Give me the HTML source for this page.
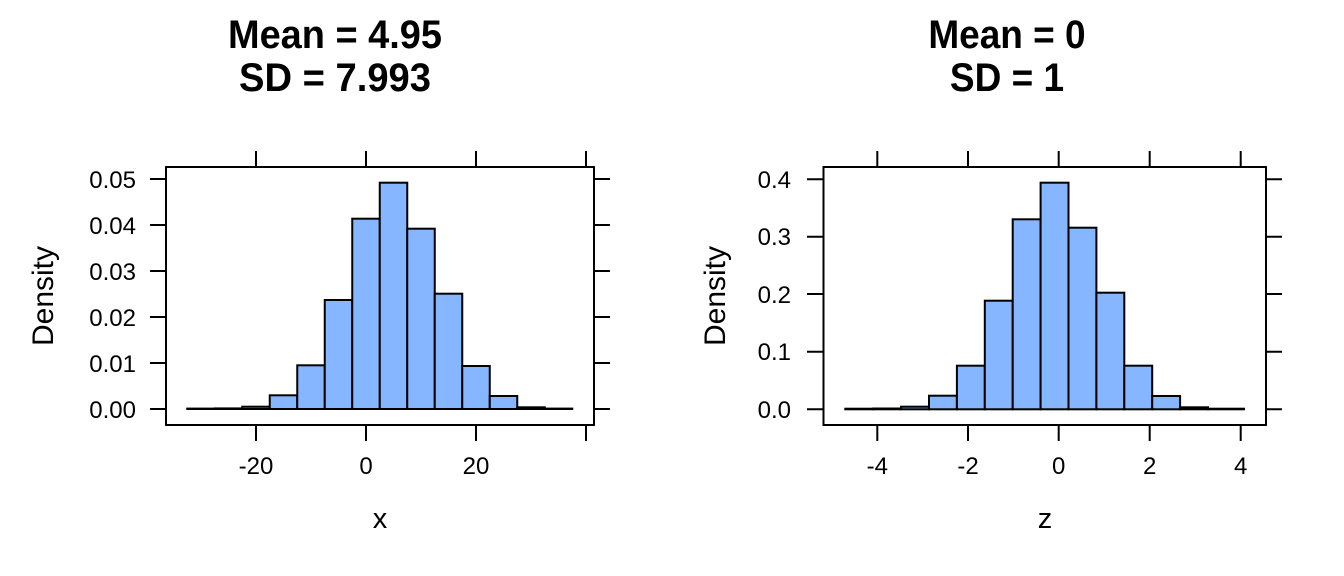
<!DOCTYPE html>
<html><head><style>html,body{margin:0;padding:0;background:#fff;}svg{display:block;}</style></head>
<body>
<svg width="1344" height="576" viewBox="0 0 1344 576" xmlns="http://www.w3.org/2000/svg" font-family="Liberation Sans, Arial, sans-serif">
<rect width="1344" height="576" fill="#fff"/>
<!-- Titles -->
<g font-weight="bold" font-size="37" text-anchor="middle" fill="#000">
<g transform="translate(0,48) scale(1,1.08)"><text x="335" y="0" textLength="214" lengthAdjust="spacingAndGlyphs">Mean = 4.95</text></g>
<g transform="translate(0,91) scale(1,1.08)"><text x="335" y="0" textLength="192" lengthAdjust="spacingAndGlyphs">SD = 7.993</text></g>
<g transform="translate(0,48) scale(1,1.08)"><text x="1007" y="0">Mean = 0</text></g>
<g transform="translate(0,91) scale(1,1.08)"><text x="1007" y="0">SD = 1</text></g>
</g>
<!-- LEFT PANEL -->
<g fill="#85B6FF" stroke="#000" stroke-width="2">
<rect x="187.25" y="408.6" width="27.5" height="0.4"/>
<rect x="214.75" y="408.4" width="27.5" height="0.6"/>
<rect x="242.25" y="406.7" width="27.5" height="2.3"/>
<rect x="269.75" y="395.3" width="27.5" height="13.7"/>
<rect x="297.25" y="365.3" width="27.5" height="43.7"/>
<rect x="324.75" y="300" width="27.5" height="109"/>
<rect x="352.25" y="218.7" width="27.5" height="190.3"/>
<rect x="379.75" y="182.7" width="27.5" height="226.3"/>
<rect x="407.25" y="228.7" width="27.5" height="180.3"/>
<rect x="434.75" y="293.7" width="27.5" height="115.3"/>
<rect x="462.25" y="366" width="27.5" height="43"/>
<rect x="489.75" y="396" width="27.5" height="13"/>
<rect x="517.25" y="407.3" width="27.5" height="1.7"/>
<rect x="544.75" y="408.6" width="27.5" height="0.4"/>
</g>
<g stroke="#000" stroke-width="2" fill="none">
<rect x="166" y="167" width="428" height="258"/>
<path d="M256 151V167M366 151V167M476 151V167M586 151V167M256 425V441M366 425V441M476 425V441M586 425V441"/>
<path d="M150 179H166M150 225H166M150 271H166M150 317H166M150 363H166M150 409H166M594 179H610M594 225H610M594 271H610M594 317H610M594 363H610M594 409H610"/>
</g>
<g font-size="24" fill="#000">
<g text-anchor="end">
<text x="136" y="188">0.05</text>
<text x="136" y="234">0.04</text>
<text x="136" y="280">0.03</text>
<text x="136" y="326">0.02</text>
<text x="136" y="372">0.01</text>
<text x="136" y="418">0.00</text>
</g>
<g text-anchor="middle">
<text x="256" y="474">-20</text>
<text x="366" y="474">0</text>
<text x="476" y="474">20</text>
</g>
</g>
<text x="380" y="528" font-size="29" text-anchor="middle">x</text>
<text transform="translate(53,296) rotate(-90)" font-size="30" text-anchor="middle">Density</text>
<!-- RIGHT PANEL -->
<g fill="#85B6FF" stroke="#000" stroke-width="2">
<rect x="845.3" y="408.7" width="27.9" height="0.6"/>
<rect x="873.2" y="408.5" width="27.9" height="0.8"/>
<rect x="901.1" y="406.7" width="27.9" height="2.6"/>
<rect x="929" y="395.7" width="27.9" height="13.6"/>
<rect x="956.9" y="365.7" width="27.9" height="43.6"/>
<rect x="984.8" y="300.7" width="27.9" height="108.6"/>
<rect x="1012.7" y="219.3" width="27.9" height="190"/>
<rect x="1040.6" y="182.7" width="27.9" height="226.6"/>
<rect x="1068.5" y="227.7" width="27.9" height="181.6"/>
<rect x="1096.4" y="292.7" width="27.9" height="116.6"/>
<rect x="1124.3" y="365.7" width="27.9" height="43.6"/>
<rect x="1152.2" y="396" width="27.9" height="13.3"/>
<rect x="1180.1" y="407.3" width="27.9" height="2"/>
<rect x="1208" y="408.7" width="36" height="0.6"/>
</g>
<g stroke="#000" stroke-width="2" fill="none">
<rect x="823.5" y="167" width="442.5" height="258"/>
<path d="M877.3 151V167M968 151V167M1058.7 151V167M1149.7 151V167M1240.7 151V167M877.3 425V441M968 425V441M1058.7 425V441M1149.7 425V441M1240.7 425V441"/>
<path d="M807 179.3H823M807 236.7H823M807 294H823M807 351.7H823M807 409.3H823M1266 179.3H1282M1266 236.7H1282M1266 294H1282M1266 351.7H1282M1266 409.3H1282"/>
</g>
<g font-size="24" fill="#000">
<g text-anchor="end">
<text x="791" y="188">0.4</text>
<text x="791" y="245">0.3</text>
<text x="791" y="303">0.2</text>
<text x="791" y="360">0.1</text>
<text x="791" y="418">0.0</text>
</g>
<g text-anchor="middle">
<text x="877.3" y="474">-4</text>
<text x="968" y="474">-2</text>
<text x="1058.7" y="474">0</text>
<text x="1149.7" y="474">2</text>
<text x="1240.7" y="474">4</text>
</g>
</g>
<text x="1045" y="528" font-size="29" text-anchor="middle">z</text>
<text transform="translate(725,296) rotate(-90)" font-size="30" text-anchor="middle">Density</text>
</svg>
</body></html>
